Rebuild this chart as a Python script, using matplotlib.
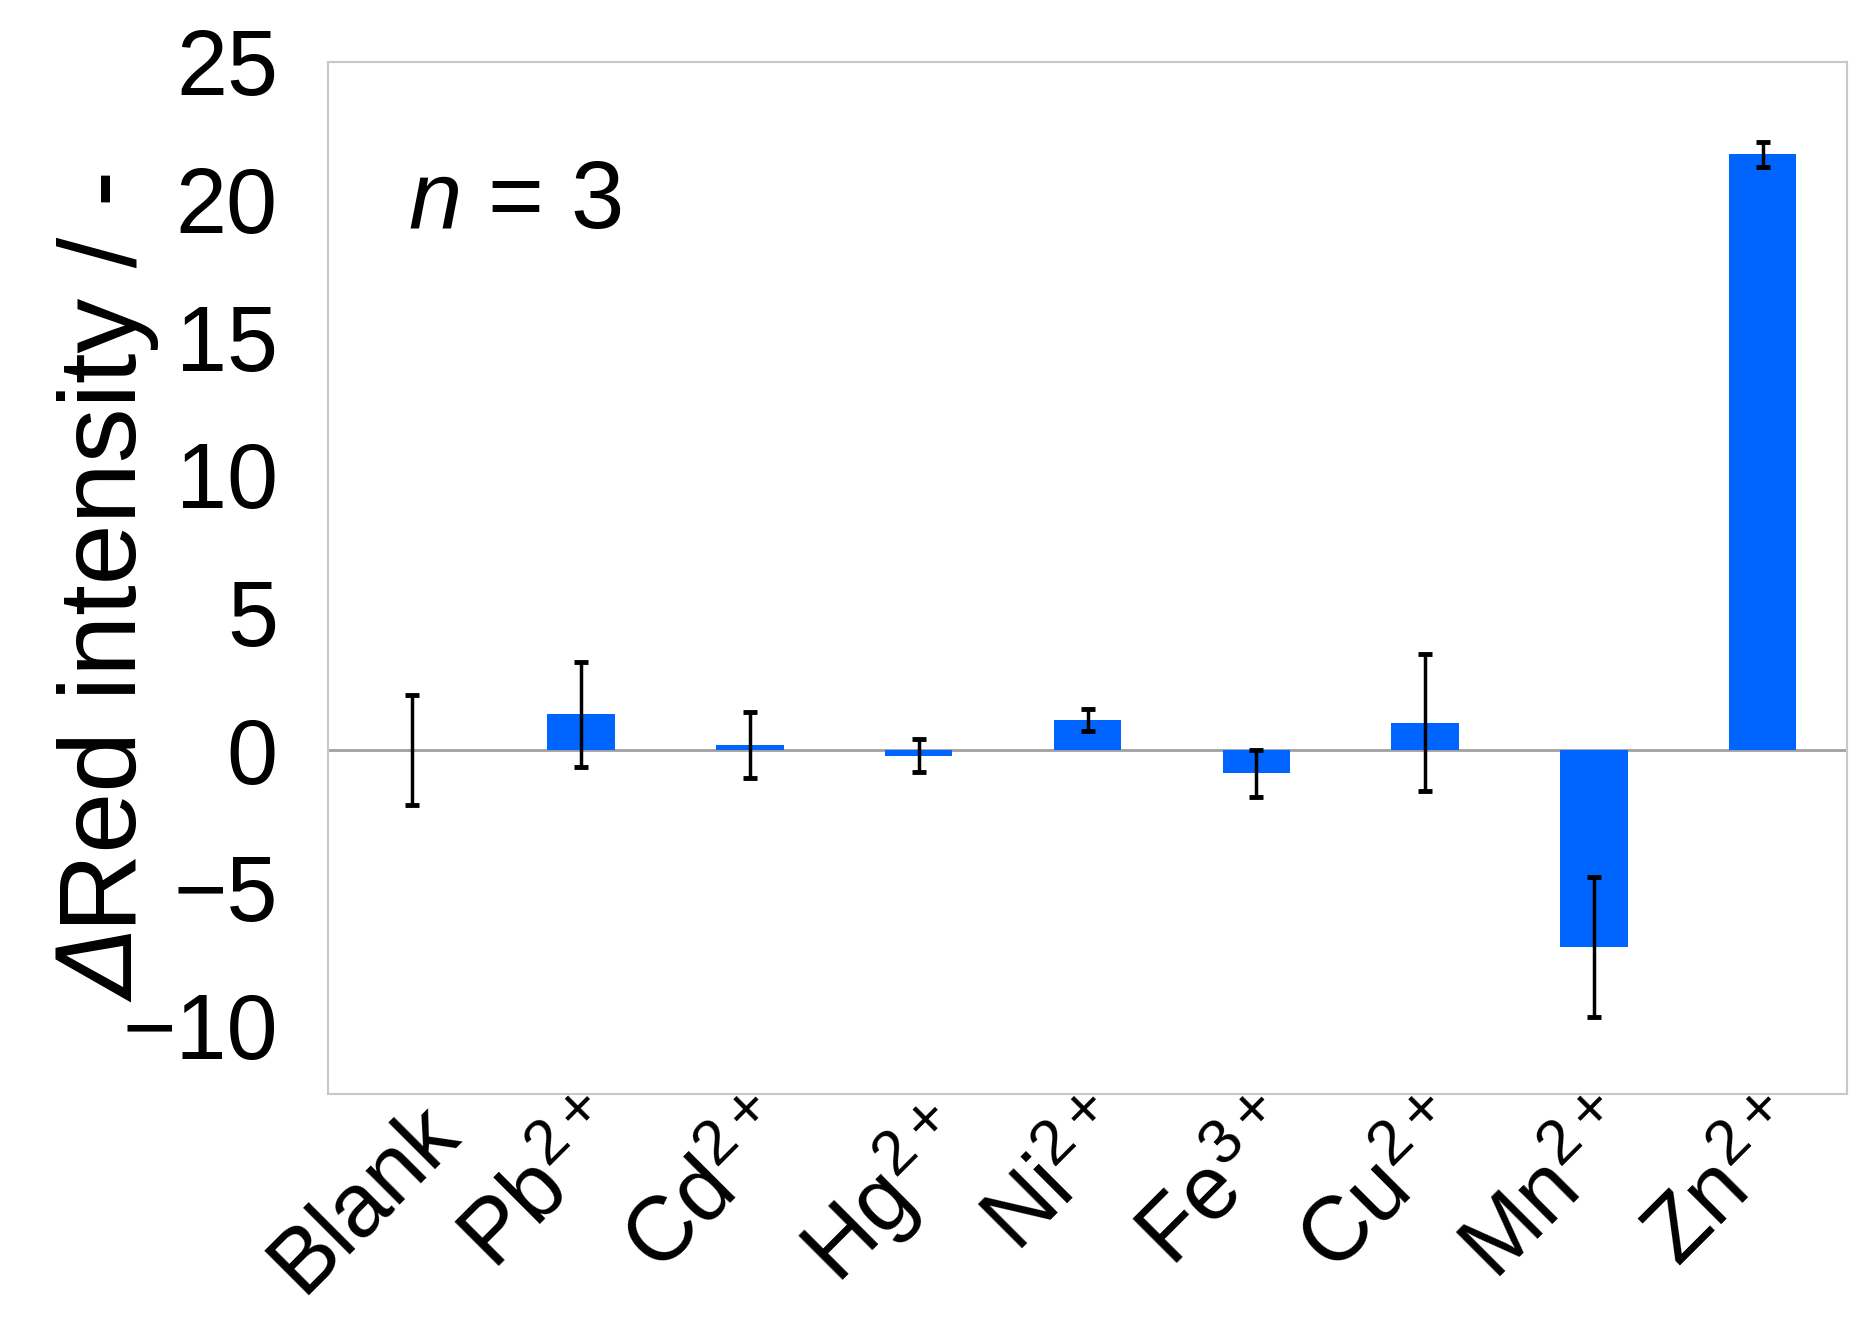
import matplotlib
matplotlib.use("Agg")
import matplotlib.pyplot as plt
from matplotlib.transforms import ScaledTranslation
import numpy as np

plt.rcParams['font.family'] = ['Liberation Sans', 'DejaVu Sans']
plt.rcParams['mathtext.fontset'] = 'custom'
plt.rcParams['mathtext.rm'] = 'Liberation Sans'
plt.rcParams['mathtext.it'] = 'Liberation Sans:italic'
plt.rcParams['mathtext.bf'] = 'Liberation Sans:bold'

categories = ['Blank', r'Pb$^{2+}$', r'Cd$^{2+}$', r'Hg$^{2+}$', r'Ni$^{2+}$',
              r'Fe$^{3+}$', r'Cu$^{2+}$', r'Mn$^{2+}$', r'Zn$^{2+}$']
values = [0.0, 1.3, 0.2, -0.2, 1.1, -0.85, 1.0, -7.15, 21.65]
errors = [2.0, 1.9, 1.2, 0.6, 0.4, 0.85, 2.5, 2.55, 0.45]
yticks = [-10, -5, 0, 5, 10, 15, 20, 25]

fig = plt.figure(figsize=(18.71, 13.30), dpi=100)
ax = fig.add_axes([0.1753, 0.1774, 0.8119, 0.776])

x = np.arange(len(categories))
ax.bar(x, values, width=0.4, color='#0064FF', zorder=2)
ax.errorbar(x, values, yerr=errors, fmt='none', ecolor='black',
            elinewidth=2.5, capsize=5, capthick=3.5, zorder=3)
ax.axhline(0, color='#a0a0a0', linewidth=2, zorder=1)

ax.set_xlim(-0.5, 8.5)
ax.set_ylim(-12.5, 25)
ax.set_yticks(yticks)
ax.set_yticklabels([str(t).replace('-', '\u2212') for t in yticks], fontsize=66)
ax.set_xticks(x)
ax.set_xticklabels(categories, fontsize=65, rotation=45, ha='right',
                   va='top', rotation_mode='anchor')
ax.tick_params(axis='y', length=0, pad=36)
ax.tick_params(axis='x', length=0, pad=0)
for lbl in ax.get_xticklabels():
    lbl.set_transform(lbl.get_transform() + ScaledTranslation(0.02, 0.05, fig.dpi_scale_trans))

for sp in ax.spines.values():
    sp.set_color('#c8c8c8')
    sp.set_linewidth(1.5)

# y-axis label: italic Delta followed by upright text
t_delta = ax.text(-0.111, 0.089, '\u0394', transform=ax.transAxes, rotation=90,
                  ha='right', va='bottom', fontsize=74, fontstyle='oblique',
                  family='DejaVu Sans', clip_on=False)
ax.annotate('Red intensity / -', xy=(1, 1), xycoords=t_delta, rotation=90,
            ha='right', va='bottom', fontsize=79, annotation_clip=False)

ax.text(0.0527, 0.839, r'$n$ = 3', transform=ax.transAxes, fontsize=69,
        ha='left', va='baseline')

fig.savefig('out.png', dpi=100)
